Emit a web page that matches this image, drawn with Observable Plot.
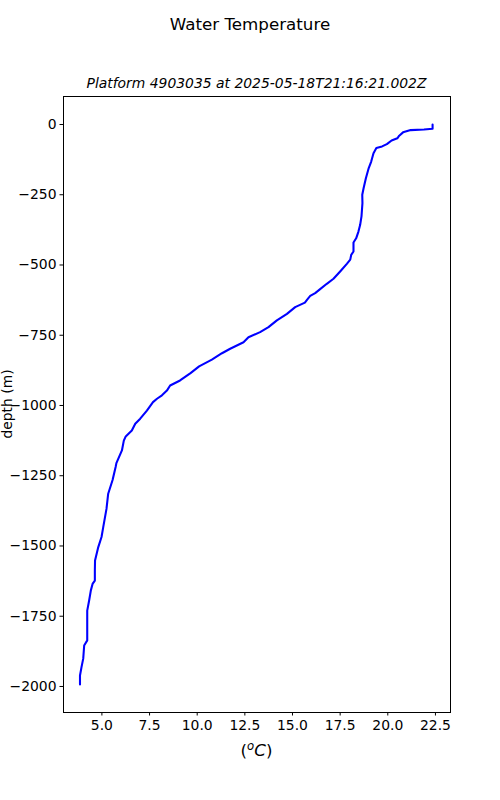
<!DOCTYPE html>
<html><head><meta charset="utf-8">
<script src="https://cdn.jsdelivr.net/npm/d3@7"></script>
<script src="https://cdn.jsdelivr.net/npm/@observablehq/plot@0.6"></script>
<style>body{margin:0;background:#fff;}</style>
</head><body><div id="chart"></div><script>
const depth = [0,-15,-18,-20,-28,-40,-49,-57,-70,-78,-84,-102,-132,-155,-191,-227,-250,-280,-327,-357,-381,-405,-420,-452,-464,-481,-496,-523,-549,-567,-586,-600,-610,-624,-634,-650,-674,-697,-721,-739,-757,-775,-798,-814,-837,-861,-885,-911,-929,-947,-964,-976,-988,-1018,-1047,-1065,-1089,-1110,-1125,-1160,-1205,-1219,-1265,-1314,-1368,-1433,-1468,-1504,-1552,-1587,-1623,-1635,-1658,-1694,-1730,-1836,-1854,-1901,-1931,-1961,-1993];
const temperature = [22.35,22.35,21.9,21.2,20.8,20.6,20.5,20.2,19.95,19.7,19.4,19.25,19.13,19.0,18.85,18.73,18.66,18.67,18.62,18.55,18.46,18.34,18.2,18.2,18.08,18.03,17.85,17.5,17.15,16.8,16.45,16.19,15.93,15.76,15.65,15.14,14.71,14.18,13.74,13.3,12.69,12.43,11.73,11.3,10.77,10.1,9.65,9.1,8.58,8.41,8.15,7.89,7.68,7.36,7.01,6.75,6.57,6.25,6.15,6.05,5.76,5.72,5.56,5.33,5.24,5.07,4.98,4.81,4.64,4.63,4.63,4.51,4.42,4.33,4.23,4.23,4.07,4.02,3.93,3.85,3.85];
const xTicks = [5, 7.5, 10, 12.5, 15, 17.5, 20, 22.5];
const yTicks = [0, -250, -500, -750, -1000, -1250, -1500, -1750, -2000];
const titleText = "Water Temperature";
const subtitleText = "Platform 4903035 at 2025-05-18T21:16:21.002Z";
const yLabel = "depth (m)";

const data = depth.map((d, i) => ({depth: d, temp: temperature[i]}));

const chart = Plot.plot({
  width: 500, height: 800,
  marginLeft: 63, marginRight: 50, marginTop: 96, marginBottom: 88,
  style: {fontFamily: "DejaVu Sans", fontSize: "13.9px", background: "white", color: "black"},
  x: {domain: [2.985, 23.29], label: null},
  y: {domain: [-2092.6, 99.6], label: null},
  marks: [
    Plot.axisX({ticks: xTicks, tickFormat: d3.format(".1f"), tickSize: 3.5, tickPadding: 4, label: null}),
    Plot.axisY({ticks: yTicks, tickFormat: d3.format("d"), tickSize: 3.5, tickPadding: 3.5, label: null}),
    Plot.line(data, {x: "temp", y: "depth", stroke: "blue", strokeWidth: 2.08}),
    Plot.frame({stroke: "black", strokeWidth: 1})
  ]
});
document.getElementById("chart").appendChild(chart);

const svg = d3.select(chart);
svg.append("text").attr("x", 250).attr("y", 30).attr("text-anchor", "middle")
  .attr("font-size", 16.7).attr("font-family", "DejaVu Sans").attr("fill", "black").text(titleText);
svg.append("text").attr("x", 256.5).attr("y", 88).attr("text-anchor", "middle")
  .attr("font-size", 13.9).attr("font-style", "italic").attr("font-family", "DejaVu Sans").attr("fill", "black").text(subtitleText);
svg.append("text").attr("transform", "translate(11.5,404) rotate(-90)").attr("text-anchor", "middle")
  .attr("font-size", 13.9).attr("font-family", "DejaVu Sans").attr("fill", "black").text(yLabel);
const xl = svg.append("text").attr("x", 256.5).attr("y", 756).attr("text-anchor", "middle")
  .attr("font-size", 16.7).attr("font-family", "DejaVu Sans").attr("fill", "black");
xl.append("tspan").text("(");
xl.append("tspan").attr("font-style", "italic").attr("font-size", 11.7).attr("dy", -6).text("o");
xl.append("tspan").attr("font-style", "italic").attr("dy", 6).text("C");
xl.append("tspan").text(")");
</script></body></html>
